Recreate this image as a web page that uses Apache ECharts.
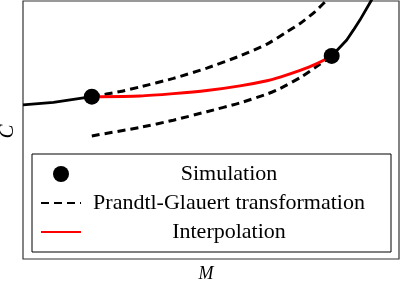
<!DOCTYPE html>
<html>
<head>
<meta charset="utf-8">
<script src="https://cdn.jsdelivr.net/npm/echarts@6/dist/echarts.min.js"></script>
<style>
  html, body { margin: 0; padding: 0; background: #fff; }
  #chart { width: 401px; height: 283px; }
</style>
</head>
<body>
<div id="chart"></div>
<script>
// values, normalised axes (M and C both 0..1)
const simM = [0.183, 0.821]
const simC = [0.629, 0.787]

// the measured curve outside the two simulation points
const trueM = [0.000, 0.081, 0.183, null, 0.821, 0.861, 0.879, 0.896, 0.927, 0.941]
const trueC = [0.597, 0.607, 0.629, null, 0.787, 0.849, 0.888, 0.926, 1.004, 1.043]

// Prandtl-Glauert from the first point (upper) and to the second point (lower)
const pgUpperM = [0.183, 0.258, 0.311, 0.400, 0.489, 0.577, 0.649, 0.697, 0.737, 0.777, 0.803, 0.816]
const pgUpperC = [0.629, 0.649, 0.667, 0.700, 0.740, 0.787, 0.833, 0.876, 0.913, 0.959, 0.996, 1.016]
const pgLowerM = [0.183, 0.311, 0.400, 0.489, 0.577, 0.652, 0.684, 0.737, 0.777, 0.821]
const pgLowerC = [0.477, 0.510, 0.538, 0.571, 0.605, 0.641, 0.661, 0.703, 0.742, 0.787]

// interpolation between the two points
const interpM = [0.183, 0.311, 0.400, 0.489, 0.577, 0.652, 0.684, 0.737, 0.777, 0.821]
const interpC = [0.629, 0.632, 0.641, 0.653, 0.671, 0.692, 0.705, 0.731, 0.754, 0.787]

const legendNames = ['Simulation', 'Prandtl-Glauert transformation', 'Interpolation']

const pairs = (xs, ys) => xs.map((x, i) => (x === null ? [null, null] : [x, ys[i]]))
const serif = '"Liberation Serif", "DejaVu Serif", serif'

const chart = echarts.init(document.getElementById('chart'))
const option = {
  animation: false,
  grid: {
    left: 23,
    right: 2,
    top: 1,
    bottom: 24,
    outerBoundsMode: 'none',
    containLabel: false,
    show: true,
    borderColor: '#333',
    borderWidth: 1.2
  },
  xAxis: {
    type: 'value',
    min: 0,
    max: 1,
    name: 'M',
    nameLocation: 'middle',
    nameGap: 3,
    nameTextStyle: { fontFamily: serif, fontStyle: 'italic', fontSize: 18, color: '#000', verticalAlign: 'top', padding: [3, 10, 0, 0] },
    axisLine: { show: false },
    axisTick: { show: false },
    axisLabel: { show: false },
    splitLine: { show: false }
  },
  yAxis: {
    type: 'value',
    min: 0,
    max: 1,
    name: 'C',
    nameLocation: 'middle',
    nameGap: 5,
    nameTextStyle: { fontFamily: serif, fontStyle: 'italic', fontSize: 21, color: '#000', padding: [0, 3, 0, 0] },
    axisLine: { show: false },
    axisTick: { show: false },
    axisLabel: { show: false },
    splitLine: { show: false }
  },
  legend: {
    data: [
      { name: legendNames[0] },
      { name: legendNames[1], itemStyle: { opacity: 0 } },
      { name: legendNames[2], itemStyle: { opacity: 0 } }
    ],
    orient: 'vertical',
    left: 32,
    top: 154,
    backgroundColor: '#fff',
    borderColor: '#000',
    borderWidth: 1,
    borderRadius: 0,
    padding: [9, 19, 9, 8],
    itemWidth: 40,
    itemHeight: 16,
    itemGap: 7,
    formatter: name => '{t|' + name + '}',
    textStyle: {
      rich: {
        t: { width: 286, align: 'center', fontFamily: serif, fontSize: 22, lineHeight: 22, color: '#000' }
      }
    }
  },
  series: [
    {
      name: 'measured',
      type: 'line',
      data: pairs(trueM, trueC),
      showSymbol: false,
      symbol: 'none',
      connectNulls: false,
      lineStyle: { color: '#000', width: 2.8 },
      z: 2
    },
    {
      name: 'Prandtl-Glauert transformation',
      type: 'line',
      data: pairs(pgUpperM, pgUpperC),
      symbol: 'none',
      smooth: 0.2,
      lineStyle: { color: '#000', width: 3, type: [8, 5] },
      itemStyle: { color: '#000' },
      z: 2
    },
    {
      name: 'Prandtl-Glauert transformation',
      type: 'line',
      data: pairs(pgLowerM, pgLowerC),
      symbol: 'none',
      smooth: 0.2,
      lineStyle: { color: '#000', width: 3, type: [8, 5] },
      itemStyle: { color: '#000' },
      z: 2
    },
    {
      name: 'Interpolation',
      type: 'line',
      data: pairs(interpM, interpC),
      symbol: 'none',
      smooth: 0.2,
      lineStyle: { color: '#ff0000', width: 3 },
      itemStyle: { color: '#ff0000' },
      z: 3
    },
    {
      name: 'Simulation',
      type: 'scatter',
      data: pairs(simM, simC),
      symbol: 'circle',
      symbolSize: 16,
      itemStyle: { color: '#000', opacity: 1 },
      z: 4
    }
  ]
}
chart.setOption(option)
</script>
</body>
</html>
